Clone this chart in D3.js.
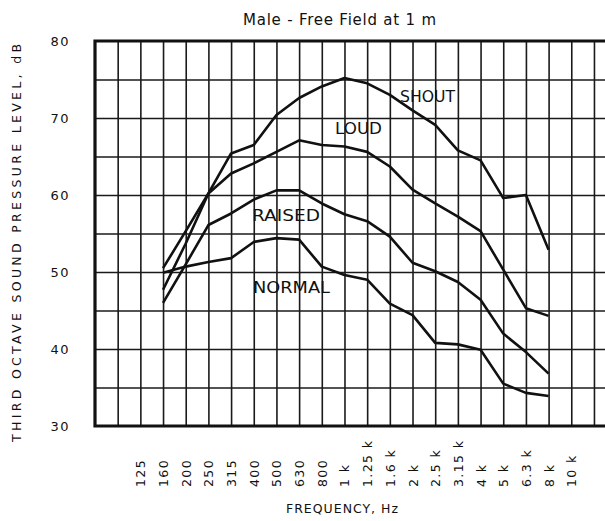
<!DOCTYPE html>
<html>
<head>
<meta charset="utf-8">
<script src="https://cdn.jsdelivr.net/npm/d3@7"></script>
<style>
  body { margin: 0; background: #fff; }
  svg { display: block; font-family: "DejaVu Sans", sans-serif; }
</style>
</head>
<body>
<div id="chart"></div>
<script>
// third octave bands along the grid (80 Hz sits on the left frame)
var bands = ["80","100","125","160","200","250","315","400","500","630","800","1k","1.25k","1.6k","2k","2.5k","3.15k","4k","5k","6.3k","8k","10k","12.5k","16k"];
var labelBands = ["125","160","200","250","315","400","500","630","800","1k","1.25k","1.6k","2k","2.5k","3.15k","4k","5k","6.3k","8k","10k"];
var tickLabels = ["125","160","200","250","315","400","500","630","800","1 k","1.25 k","1.6 k","2 k","2.5 k","3.15 k","4 k","5 k","6.3 k","8 k","10 k"];
var yTicks = [30, 40, 50, 60, 70, 80];
var yGrid = [35, 40, 45, 50, 55, 60, 65, 70, 75];

var curveBands = ["160","200","250","315","400","500","630","800","1k","1.25k","1.6k","2k","2.5k","3.15k","4k","5k","6.3k","8k"];
var normal = [49.9, 50.7, 51.3, 51.8, 53.9, 54.4, 54.2, 50.7, 49.6, 49.0, 45.9, 44.4, 40.8, 40.6, 39.9, 35.5, 34.3, 33.9];
var raised = [46.0, 51.0, 56.1, 57.6, 59.4, 60.6, 60.6, 58.9, 57.5, 56.6, 54.6, 51.2, 50.1, 48.7, 46.4, 42.0, 39.6, 36.8];
var loud   = [50.5, 55.3, 60.2, 62.8, 64.1, 65.6, 67.1, 66.5, 66.3, 65.6, 63.7, 60.7, 58.9, 57.2, 55.3, 50.3, 45.3, 44.3];
var shout  = [47.7, 53.7, 60.2, 65.4, 66.5, 70.4, 72.6, 74.1, 75.2, 74.5, 73.0, 71.0, 69.1, 65.8, 64.5, 59.6, 60.0, 52.9];

var series = [
  { name: "NORMAL", values: normal, lx: 253, ly: 293, lw: 77 },
  { name: "RAISED", values: raised, lx: 252, ly: 221, lw: 68 },
  { name: "LOUD",   values: loud,   lx: 335, ly: 134, lw: 47 },
  { name: "SHOUT",  values: shout,  lx: 400, ly: 102, lw: 55 }
];

var W = 605, H = 521;
var m = { left: 95, top: 41, bottom: 426 };

var svg = d3.select("#chart").append("svg")
    .attr("width", W)
    .attr("height", H);

var x = d3.scalePoint()
    .domain(bands)
    .range([m.left, m.left + 23 * 22.68]);

var y = d3.scaleLinear()
    .domain([30, 80])
    .range([m.bottom, m.top]);

var xEnd = x("16k");

// vertical grid
svg.append("g")
    .attr("class", "vgrid")
    .attr("transform", "translate(0," + m.bottom + ")")
    .call(d3.axisBottom(x).tickValues(bands.slice(1)).tickSize(-(m.bottom - m.top)).tickSizeOuter(0).tickFormat(""))
    .call(function(g) { g.select(".domain").remove(); })
    .selectAll("line")
    .attr("stroke", "#1a1a1a")
    .attr("stroke-width", 1.6);

// horizontal grid
svg.append("g")
    .attr("class", "hgrid")
    .attr("transform", "translate(" + m.left + ",0)")
    .call(d3.axisLeft(y).tickValues(yGrid).tickSize(-(xEnd - m.left)).tickFormat(""))
    .call(function(g) { g.select(".domain").remove(); })
    .selectAll("line")
    .attr("stroke", "#1a1a1a")
    .attr("stroke-width", 1.6);

// frame
svg.append("path")
    .attr("d", "M" + xEnd + "," + m.top + "H" + m.left + "V" + m.bottom + "H" + xEnd)
    .attr("fill", "none")
    .attr("stroke", "#111")
    .attr("stroke-width", 3.2);

// y tick labels
var yax = svg.append("g")
    .attr("transform", "translate(70,0)")
    .call(d3.axisLeft(y).tickValues(yTicks).tickSize(0).tickPadding(0));
yax.select(".domain").remove();
yax.selectAll("text")
    .attr("font-size", 13)
    .attr("letter-spacing", 1.5)
    .attr("fill", "#111")
    .attr("font-family", "DejaVu Sans");

// x tick labels, rotated
var xax = svg.append("g")
    .attr("transform", "translate(0," + m.bottom + ")")
    .call(d3.axisBottom(x).tickValues(labelBands).tickSize(0)
        .tickFormat(function(d) { return tickLabels[labelBands.indexOf(d)]; }));
xax.select(".domain").remove();
xax.selectAll("text")
    .attr("transform", "rotate(-90)")
    .attr("x", -61)
    .attr("y", 0)
    .attr("dy", "0.36em")
    .attr("text-anchor", "start")
    .attr("font-size", 12.5)
    .attr("letter-spacing", 1.4)
    .attr("fill", "#111")
    .attr("font-family", "DejaVu Sans");

// curves
var line = d3.line()
    .x(function(d, i) { return x(curveBands[i]); })
    .y(function(d) { return y(d); });

svg.selectAll(".curve")
    .data(series)
    .enter()
    .append("path")
    .attr("class", "curve")
    .attr("d", function(d) { return line(d.values); })
    .attr("fill", "none")
    .attr("stroke", "#111")
    .attr("stroke-width", 2.6)
    .attr("stroke-linejoin", "round");

// curve labels
svg.selectAll(".clabel")
    .data(series)
    .enter()
    .append("text")
    .attr("class", "clabel")
    .attr("x", function(d) { return d.lx; })
    .attr("y", function(d) { return d.ly; })
    .attr("textLength", function(d) { return d.lw; })
    .attr("lengthAdjust", "spacingAndGlyphs")
    .attr("font-size", 15)
    .attr("fill", "#111")
    .text(function(d) { return d.name; });

// titles
svg.append("text")
    .attr("x", 339.5)
    .attr("y", 25)
    .attr("text-anchor", "middle")
    .attr("font-size", 15)
    .attr("textLength", 193)
    .attr("fill", "#111")
    .text("Male - Free Field at 1 m");

svg.append("text")
    .attr("transform", "translate(16,243) rotate(-90)")
    .attr("dy", "0.36em")
    .attr("text-anchor", "middle")
    .attr("font-size", 12.5)
    .attr("textLength", 398)
    .attr("fill", "#111")
    .text("THIRD OCTAVE SOUND PRESSURE LEVEL, dB");

svg.append("text")
    .attr("x", 342)
    .attr("y", 513)
    .attr("text-anchor", "middle")
    .attr("font-size", 12.5)
    .attr("textLength", 112)
    .attr("fill", "#111")
    .text("FREQUENCY,  Hz");
</script>
</body>
</html>
